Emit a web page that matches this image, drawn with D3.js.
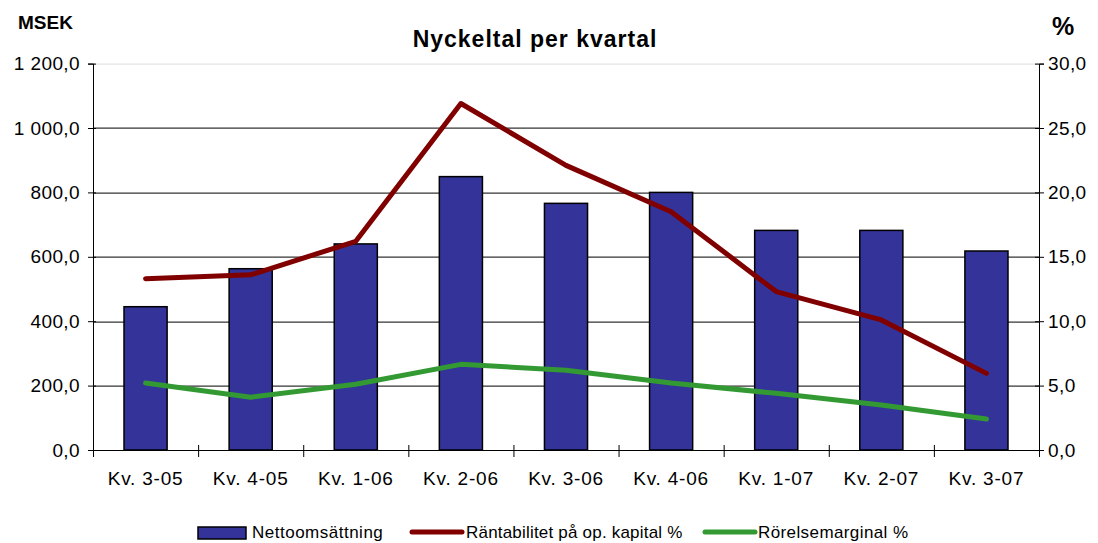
<!DOCTYPE html>
<html>
<head>
<meta charset="utf-8">
<script src="https://cdn.jsdelivr.net/npm/d3@7"></script>
<style>
body { margin: 0; background: #fff; }
text { font-family: "Liberation Sans", Arial, sans-serif; fill: #000; }
</style>
</head>
<body>
<div id="chart"></div>
<script>
// data
const categories = ["Kv. 3-05", "Kv. 4-05", "Kv. 1-06", "Kv. 2-06", "Kv. 3-06", "Kv. 4-06", "Kv. 1-07", "Kv. 2-07", "Kv. 3-07"];
const nettoomsattning = [445, 563, 640, 849, 766, 800, 682, 682, 618];
const rantabilitet = [13.3, 13.6, 16.2, 26.9, 22.1, 18.5, 12.3, 10.1, 5.95];
const rorelsemarginal = [5.2, 4.1, 5.1, 6.65, 6.2, 5.2, 4.4, 3.5, 2.4];
const leftTicks = [0, 200, 400, 600, 800, 1000, 1200];
const rightTicks = [0, 5, 10, 15, 20, 25, 30];

//dimensions
const W = 1098, H = 543;
const margin = { top: 63.6, right: 59, bottom: 93, left: 93 };
const width = W - margin.left - margin.right;
const height = H - margin.top - margin.bottom;

const sv = d3.formatLocale({ decimal: ",", thousands: " ", grouping: [3], currency: ["", ""] });
const fmt = sv.format(",.1f");

const svg = d3.select("#chart").append("svg")
  .attr("width", W).attr("height", H);

const g = svg.append("g")
  .attr("transform", "translate(" + margin.left + "," + margin.top + ")");

//scales
const x = d3.scaleBand().domain(categories).range([0, width]).padding(0);
const xBar = d3.scaleBand().domain(categories).range([0, width])
  .paddingInner(0.59).paddingOuter(0.295);
const yL = d3.scaleLinear().domain([0, 1200]).range([height, 0]);
const yR = d3.scaleLinear().domain([0, 30]).range([height, 0]);

//gridlines
g.selectAll(".grid")
  .data(leftTicks.slice(1))
  .enter().append("line")
  .attr("x1", 0).attr("x2", width)
  .attr("y1", d => Math.round(yL(d)) + 0.5).attr("y2", d => Math.round(yL(d)) + 0.5)
  .attr("stroke", d => d === 1200 ? "#dddddd" : "#000")
  .attr("stroke-width", 1);

//bars
g.selectAll(".bar")
  .data(nettoomsattning)
  .enter().append("rect")
  .attr("x", (d, i) => xBar(categories[i]))
  .attr("width", xBar.bandwidth())
  .attr("y", d => yL(d))
  .attr("height", d => height - yL(d))
  .attr("fill", "#333399")
  .attr("stroke", "#000")
  .attr("stroke-width", 1.5);

//lines
const line = d3.line()
  .x((d, i) => x(categories[i]) + x.bandwidth() / 2)
  .y(d => yR(d));

g.append("path").datum(rorelsemarginal)
  .attr("d", line).attr("fill", "none")
  .attr("stroke", "#339933").attr("stroke-width", 5)
  .attr("stroke-linecap", "round").attr("stroke-linejoin", "round");

g.append("path").datum(rantabilitet)
  .attr("d", line).attr("fill", "none")
  .attr("stroke", "#800000").attr("stroke-width", 5)
  .attr("stroke-linecap", "round").attr("stroke-linejoin", "round");

//axes
const yAxisL = d3.axisLeft(yL).tickValues(leftTicks).tickFormat(fmt).tickSize(5).tickPadding(8);
const gl = g.append("g").call(yAxisL);
gl.select(".domain").attr("stroke", "#000");
gl.selectAll(".tick line").attr("x2", -5).attr("x1", 3);
gl.selectAll("text").style("font-size", "19px").style("letter-spacing", "0.4px").attr("fill", "#000");

const yAxisR = d3.axisRight(yR).tickValues(rightTicks).tickFormat(fmt).tickSize(5).tickPadding(4);
const gr = g.append("g").attr("transform", "translate(" + width + ",0)").call(yAxisR);
gr.select(".domain").attr("stroke", "#000");
gr.selectAll(".tick line").attr("x1", -4).attr("x2", 5);
gr.selectAll("text").style("font-size", "19px").style("letter-spacing", "0.4px").attr("fill", "#000");

const xAxis = d3.axisBottom(x).tickSize(0).tickPadding(22);
const gx = g.append("g").attr("transform", "translate(0," + height + ")").call(xAxis);
gx.select(".domain").attr("stroke", "#000");
gx.selectAll(".tick line").remove();
gx.selectAll("text").style("font-size", "19px").style("letter-spacing", "0.8px").attr("fill", "#000");

// category boundary ticks
gx.selectAll(".sep")
  .data(categories.concat(["end"]))
  .enter().append("line")
  .attr("x1", (d, i) => i * x.step() + 0.5).attr("x2", (d, i) => i * x.step() + 0.5)
  .attr("y1", -5).attr("y2", 7)
  .attr("stroke", "#000");

//titles
svg.append("text")
  .attr("x", 535).attr("y", 47)
  .attr("text-anchor", "middle")
  .style("font-size", "23px").style("font-weight", "bold").style("letter-spacing", "1px")
  .text("Nyckeltal per kvartal");

svg.append("text")
  .attr("x", 18).attr("y", 29)
  .style("font-size", "19px").style("font-weight", "bold")
  .text("MSEK");

svg.append("text")
  .attr("x", 1052).attr("y", 35)
  .style("font-size", "25px").style("font-weight", "bold")
  .text("%");

//legend
const legend = svg.append("g");
legend.append("rect")
  .attr("x", 198).attr("y", 527).attr("width", 48).attr("height", 12)
  .attr("fill", "#333399").attr("stroke", "#000").attr("stroke-width", 1.5);
legend.append("text").attr("x", 252).attr("y", 538)
  .style("font-size", "17px").style("letter-spacing", "0.5px").text("Nettoomsättning");

legend.append("line")
  .attr("x1", 412).attr("x2", 462).attr("y1", 532).attr("y2", 532)
  .attr("stroke", "#800000").attr("stroke-width", 5).attr("stroke-linecap", "round");
legend.append("text").attr("x", 466).attr("y", 538)
  .style("font-size", "17px").style("letter-spacing", "0.2px").text("Räntabilitet på op. kapital %");

legend.append("line")
  .attr("x1", 705).attr("x2", 755).attr("y1", 532).attr("y2", 532)
  .attr("stroke", "#339933").attr("stroke-width", 5).attr("stroke-linecap", "round");
legend.append("text").attr("x", 758).attr("y", 538)
  .style("font-size", "17px").style("letter-spacing", "0.4px").text("Rörelsemarginal %");
</script>
</body>
</html>
